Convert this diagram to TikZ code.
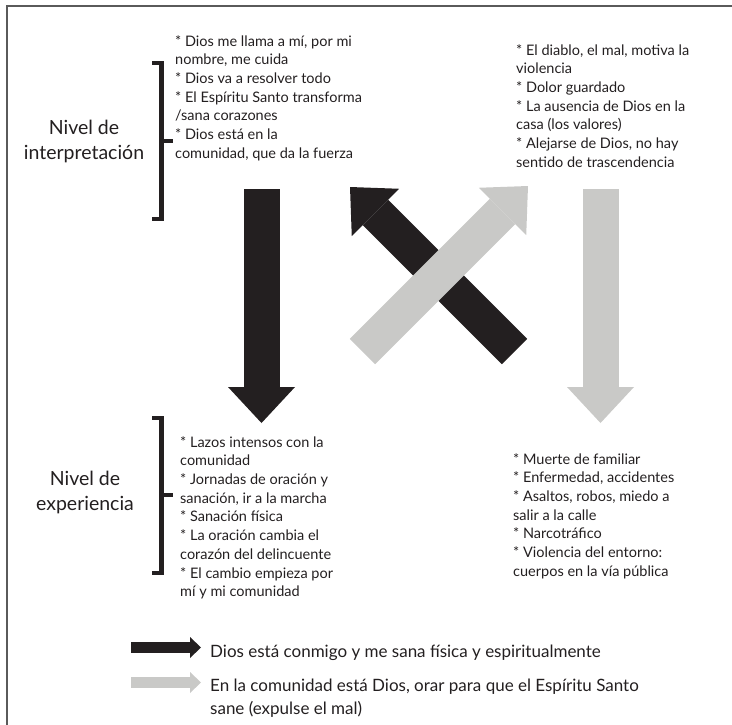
\documentclass[tikz,border=0pt]{standalone}
\usepackage{fontspec}
\setmainfont{Lato}
\usetikzlibrary{arrows.meta}

\definecolor{inkblack}{HTML}{231F20}
\definecolor{lightgray}{HTML}{C9C9C7}
\definecolor{framegray}{HTML}{5A5A5A}

\begin{document}
\begin{tikzpicture}[
        x=1pt, y=-1pt,
        every node/.style={text=inkblack, inner sep=0pt},
        list/.style={anchor=north west, align=left,
        font=\fontsize{14.5}{18.7}\selectfont},
        level/.style={align=center,
        font=\fontsize{19.5}{25}\selectfont},
        legend/.style={anchor=north west, align=left,
        font=\fontsize{17}{23}\selectfont},
        bracket/.style={draw=inkblack, line width=4.5pt, line join=miter},
        bigarrow/.style={line width=36pt,
        -{Triangle[length=36pt,width=67pt,line width=0pt]}},
        smallarrow/.style={line width=11pt,
        -{Triangle[length=11pt,width=21pt,line width=0pt]}},
        ]

        \useasboundingbox (0,0) rectangle (732,724);
        \draw[framegray, line width=2pt] (7,726) -- (7,6) -- (734,6);

        % niveles
        \node (interp) [level] at (84,141) {Nivel de\\interpretación};
        \node (exper) [level] at (85,492) {Nivel de\\experiencia};

        \draw[bracket] (152,63) -- (161.5,63) -- (161.5,219) -- (152,219);
        \draw[bracket] (161.5,141) -- (173,141);
        \draw[bracket] (152,418) -- (161.5,418) -- (161.5,573) -- (152,573);
        \draw[bracket] (161.5,495) -- (173,495);

        % textos
        \node (dios) [list] at (175,35) {* Dios me llama a mí, por mi\\nombre, me cuida\\* Dios va a resolver todo\\* El Espíritu Santo transforma\\/sana corazones\\* Dios está en la\\comunidad, que da la fuerza};
        \node (diablo) [list] at (516,44) {* El diablo, el mal, motiva la\\violencia\\* Dolor guardado\\* La ausencia de Dios en la\\casa (los valores)\\* Alejarse de Dios, no hay\\sentido de trascendencia};
        \node (lazos) [list] at (180,436) {* Lazos intensos con la\\comunidad\\* Jornadas de oración y\\sanación, ir a la marcha\\* Sanación física\\* La oración cambia el\\corazón del delincuente\\* El cambio empieza por\\mí y mi comunidad};
        \node (muerte) [list] at (513,453) {* Muerte de familiar\\* Enfermedad, accidentes\\* Asaltos, robos, miedo a\\salir a la calle\\* Narcotráfico\\* Violencia del entorno:\\cuerpos en la vía pública};

        % flechas
        \coordinate (b1) at (261.5,189);
        \coordinate (b2) at (261.5,423);
        \coordinate (g1) at (600.5,189);
        \coordinate (g2) at (600.5,423);
        \coordinate (b3) at (514.5,351.5);
        \coordinate (b4) at (350,187);
        \coordinate (g3) at (362.5,351.5);
        \coordinate (g4) at (528,186);

        \draw[bigarrow, inkblack] (b1) -- (b2);
        \draw[bigarrow, lightgray] (g1) -- (g2);
        \draw[bigarrow, inkblack] (b3) -- (b4);
        \draw[bigarrow, lightgray] (g3) -- (g4);

        % leyenda
        \coordinate (lb1) at (131,647.5);
        \coordinate (lb2) at (201,647.5);
        \coordinate (lg1) at (131,682.5);
        \coordinate (lg2) at (201,682.5);
        \draw[smallarrow, inkblack] (lb1) -- (lb2);
        \draw[smallarrow, lightgray] (lg1) -- (lg2);

        \node (conmigo) [legend, anchor=base west] at (210,657) {Dios está conmigo y me sana física y espiritualmente};
        \node (orar) [legend] at (210,678.5) {En la comunidad está Dios, orar para que el Espíritu Santo\\sane (expulse el mal)};
\end{tikzpicture}
\end{document}
